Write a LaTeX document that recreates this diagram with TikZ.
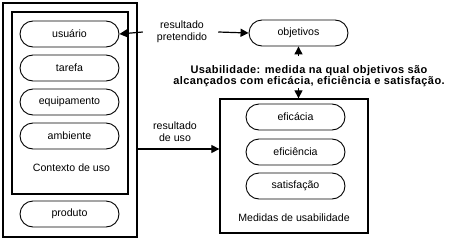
\documentclass[tikz,border=0pt]{standalone}
\usepackage{fontspec}
\setmainfont{Liberation Sans}
\newfontfamily\spacedsans[LetterSpace=3.6]{Liberation Sans}
\usetikzlibrary{shapes.misc,arrows.meta}
\begin{document}
\begin{tikzpicture}[x=1pt,y=-1pt,
  pill/.style={draw,line width=0.9pt,rounded rectangle,minimum width=99pt,minimum height=26pt,inner sep=0pt,font=\fontsize{10.6}{12}\selectfont},
  frame/.style={draw,line width=1.3pt},
  lbl/.style={font=\fontsize{10.6}{12}\selectfont,align=center,inner sep=0pt},
  arr/.style={line width=1.2pt,-{Triangle[length=8pt,width=8pt]}}]
\useasboundingbox (0,0) rectangle (449,241);
\fill[white] (0,0) rectangle (449,241);
% left frames
\node[frame,minimum width=134pt,minimum height=234pt,inner sep=0pt] (outer) at (70,120) {};
\node[frame,minimum width=116pt,minimum height=182pt,inner sep=0pt] (inner) at (70,103) {};
\node[pill] (usu) at (69.5,34) {usuário};
\node[pill] (taref) at (69.5,68) {tarefa};
\node[pill] (equip) at (69.5,102) {equipamento};
\node[pill] (amb) at (69.5,136) {ambiente};
\node[lbl] (ctx) at (71.5,168) {Contexto de uso};
\node[pill] (prod) at (69.5,214) {produto};
% objetivos
\node[pill] (obj) at (298.5,33) {objetivos};
\node[lbl] (rp) at (182,32) {resultado\\pretendido};
\draw[arr] (rp.east) ++(11pt,0) -- (obj.west);
\draw[arr] (rp.west) ++(-14pt,0) -- (usu.east);
% usability text
\node[lbl,font=\spacedsans\bfseries\fontsize{11}{10.5}\selectfont] (usab) at (309,76) {Usabilidade: medida na qual objetivos são\\alcançados com eficácia, eficiência e satisfação.};
\coordinate (upst) at (298.5,56);
\draw[arr] (upst) -- (obj.south);
% right frame
\node[frame,minimum width=148pt,minimum height=134pt,inner sep=0pt] (med) at (294,166) {};
\coordinate (dnst) at (298.5,88);
\draw[arr] (dnst) -- (med.north -| dnst);
\node[pill] (efic) at (295.5,117) {eficácia};
\node[pill] (efin) at (295.5,152) {eficiência};
\node[pill] (sat) at (295.5,186) {satisfação};
\node[lbl] (medl) at (294,218) {Medidas de usabilidade};
% resultado de uso
\node[lbl] (ru) at (175,132) {resultado\\de uso};
\draw[arr] (outer.east |- 0,149) -- (med.west |- 0,149);
\end{tikzpicture}
\end{document}
